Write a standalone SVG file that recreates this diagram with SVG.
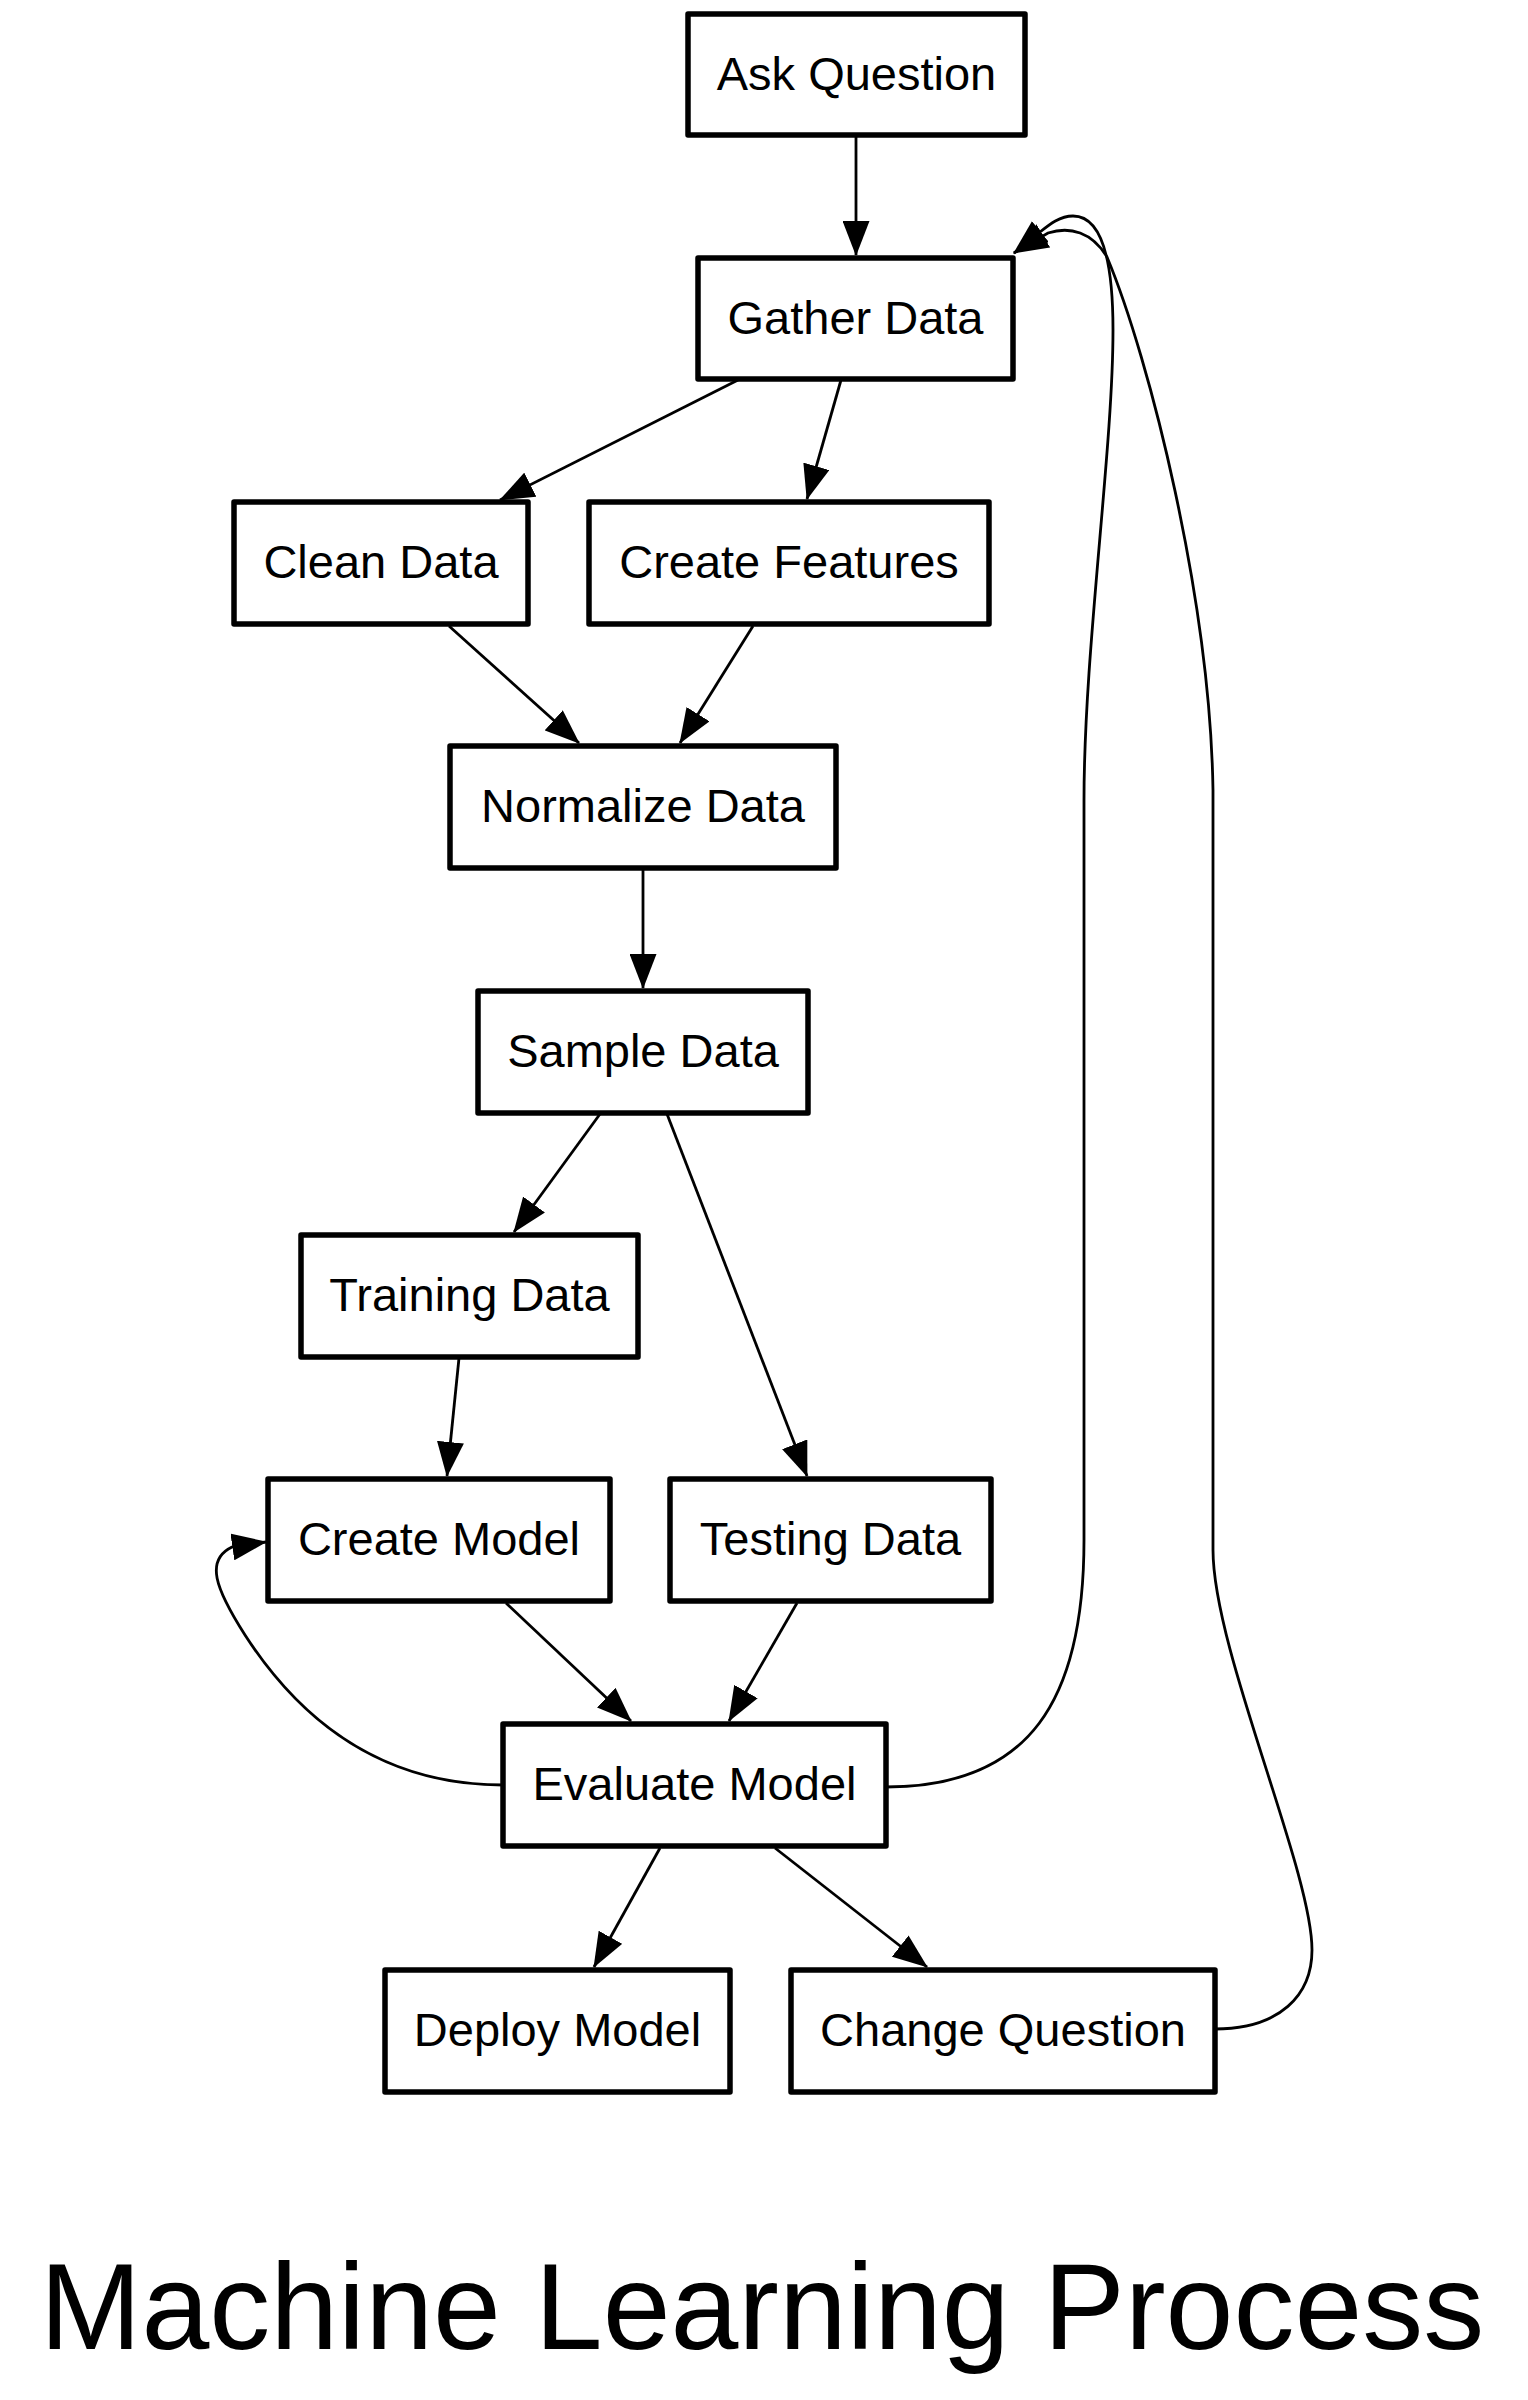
<svg xmlns="http://www.w3.org/2000/svg" width="1528" height="2400" viewBox="0 0 1528 2400">
<style>
.node rect{fill:#fff;stroke:#000;stroke-width:5.5;stroke-linejoin:round}
.node text{font-family:"Liberation Sans",Arial,Helvetica,sans-serif;font-size:47px;fill:#000;text-anchor:middle}
.edge{fill:none;stroke:#000;stroke-width:2.8;marker-end:url(#ah)}
.title{font-family:"Liberation Sans",Arial,Helvetica,sans-serif;font-size:122px;fill:#000;text-anchor:middle}
</style>
<defs>
<marker id="ah" viewBox="0 0 35 27" refX="34" refY="13.5" markerWidth="35" markerHeight="27" markerUnits="userSpaceOnUse" orient="auto">
<path d="M0,0 L35,13.5 L0,27 z" fill="#000"/>
</marker>
</defs>
<rect width="1528" height="2400" fill="#fff"/>
<g id="connectors">
<path class="edge" d="M856,135 L856,255"/>
<path class="edge" d="M738,380 L500,500"/>
<path class="edge" d="M841,380 L807,499"/>
<path class="edge" d="M449,626 L579,743"/>
<path class="edge" d="M753,626 L680,743"/>
<path class="edge" d="M643,869 L643,988"/>
<path class="edge" d="M600,1114 L514,1232"/>
<path class="edge" d="M667,1114 L807,1476"/>
<path class="edge" d="M459,1358 L447,1476"/>
<path class="edge" d="M506,1603 L631,1721"/>
<path class="edge" d="M797,1603 L729,1721"/>
<path class="edge" d="M660,1848 L594,1967"/>
<path class="edge" d="M775,1848 L927,1967"/>
<path class="edge" d="M503,1785 C380,1785 300,1720 245,1635 C215,1588 205,1560 232,1547 L266,1542"/>
<path class="edge" d="M886,1787 C1030,1787 1084,1700 1084,1540 L1084,800 C1084,650 1113,450 1113,330 C1113,270 1105,216 1073,216 C1060,216 1050,224 1040,232 L1014,253"/>
<path class="edge" d="M1215,2029 C1280,2029 1312,1995 1312,1950 C1312,1870 1213,1650 1213,1550 L1213,790 C1210,600 1150,360 1107,257 C1092,232 1070,226 1048,233 L1014,253"/>
</g>
<g id="n_ask" class="node"><rect x="688" y="14" width="337" height="121"/><text x="856.5" y="90">Ask Question</text></g>
<g id="n_gather" class="node"><rect x="698" y="258" width="315" height="121"/><text x="855.5" y="334">Gather Data</text></g>
<g id="n_clean" class="node"><rect x="234" y="502" width="294" height="122"/><text x="381" y="578">Clean Data</text></g>
<g id="n_features" class="node"><rect x="589" y="502" width="400" height="122"/><text x="789" y="578">Create Features</text></g>
<g id="n_normalize" class="node"><rect x="450" y="746" width="386" height="122"/><text x="643" y="822">Normalize Data</text></g>
<g id="n_sample" class="node"><rect x="478" y="991" width="330" height="122"/><text x="643" y="1067">Sample Data</text></g>
<g id="n_training" class="node"><rect x="301" y="1235" width="337" height="122"/><text x="469.5" y="1311">Training Data</text></g>
<g id="n_createmodel" class="node"><rect x="268" y="1479" width="342" height="122"/><text x="439" y="1555">Create Model</text></g>
<g id="n_testing" class="node"><rect x="670" y="1479" width="321" height="122"/><text x="830.5" y="1555">Testing Data</text></g>
<g id="n_evaluate" class="node"><rect x="503" y="1724" width="383" height="122"/><text x="694.5" y="1800">Evaluate Model</text></g>
<g id="n_deploy" class="node"><rect x="385" y="1970" width="345" height="122"/><text x="557.5" y="2046">Deploy Model</text></g>
<g id="n_change" class="node"><rect x="791" y="1970" width="424" height="122"/><text x="1003" y="2046">Change Question</text></g>
<text class="title" x="762" y="2349">Machine Learning Process</text>
</svg>
